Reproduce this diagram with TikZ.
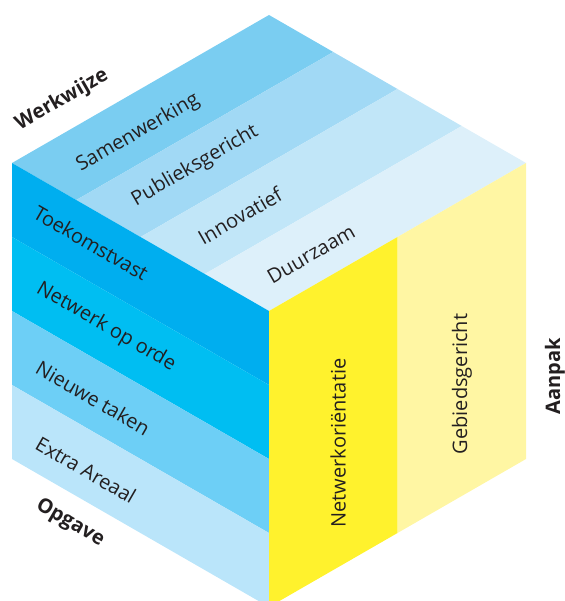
\documentclass[tikz,border=0pt]{standalone}
\usepackage{fontspec}
\setmainfont{Open Sans}
\usetikzlibrary{calc}
\definecolor{ink}{HTML}{231F20}
\definecolor{topA}{HTML}{7ACDF1}
\definecolor{topB}{HTML}{A1D9F5}
\definecolor{topC}{HTML}{C1E6F8}
\definecolor{topD}{HTML}{DDF0FA}
\definecolor{leftA}{HTML}{00AEEF}
\definecolor{leftB}{HTML}{00BEF2}
\definecolor{leftC}{HTML}{6DCFF6}
\definecolor{leftD}{HTML}{BAE5FA}
\definecolor{rightA}{HTML}{FFF22D}
\definecolor{rightB}{HTML}{FFF6A3}
\begin{document}
\begin{tikzpicture}[x=1pt,y=-1pt,
  lbl/.style={font=\fontsize{20}{20}\selectfont, text=ink, inner sep=0pt},
  hd/.style={font=\fontsize{20}{20}\selectfont\bfseries, text=ink, inner sep=0pt}]
\useasboundingbox (0,0) rectangle (564,601);
\clip (0,0) rectangle (564,601);
% cube vertices
\coordinate (T) at (269,15);
\coordinate (L) at (12,163);
\coordinate (R) at (526,163);
\coordinate (C) at (269,311);
\coordinate (BL) at (12,459);
\coordinate (BR) at (526,459);
\coordinate (B) at (269,607);
% top face strips (step along T->R)
\foreach \i/\c in {0/topA,1/topB,2/topC,3/topD}{
  \fill[\c] ($(L)!\i/4!(C)$) -- ($(T)!\i/4!(R)$) -- ($(T)!\i/4+0.25!(R)$) -- ($(L)!\i/4+0.25!(C)$) -- cycle;
}
% left face strips (step down)
\foreach \i/\c in {0/leftA,1/leftB,2/leftC,3/leftD}{
  \fill[\c] ($(L)!\i/4!(BL)$) -- ($(C)!\i/4!(B)$) -- ($(C)!\i/4+0.25!(B)$) -- ($(L)!\i/4+0.25!(BL)$) -- cycle;
}
% right face strips
\coordinate (RM) at ($(C)!0.5!(R)$);
\coordinate (RMB) at ($(B)!0.5!(BR)$);
\fill[rightA] (C) -- (RM) -- (RMB) -- (B) -- cycle;
\fill[rightB] (RM) -- (R) -- (BR) -- (RMB) -- cycle;
% labels on top face
\node[lbl, rotate=30] (samen) at (138,133) {Samenwerking};
\node[lbl, rotate=30] (publiek) at (195,166) {Publieksgericht};
\node[lbl, rotate=30] (innov) at (240,216) {Innovatief};
\node[lbl, rotate=30] (duur) at (311,254) {Duurzaam};
\node[hd, rotate=30] (werk) at (62,100) {Werkwijze};
% labels on left face
\node[lbl, rotate=-30] (toek) at (91,243) {Toekomstvast};
\node[lbl, rotate=-30] (netw) at (106,327) {Netwerk op orde};
\node[lbl, rotate=-30] (nieuw) at (93,398) {Nieuwe taken};
\node[lbl, rotate=-30] (extra) at (86,470) {Extra Areaal};
\node[hd, rotate=-30] (opg) at (70,523) {Opgave};
% labels on right face
\node[lbl, rotate=90] (netor) at (338,443) {Netwerkoriëntatie};
\node[lbl, rotate=90] (gebied) at (462,384) {Gebiedsgericht};
\node[hd, rotate=90] (aanpak) at (555,376) {Aanpak};
\end{tikzpicture}
\end{document}
